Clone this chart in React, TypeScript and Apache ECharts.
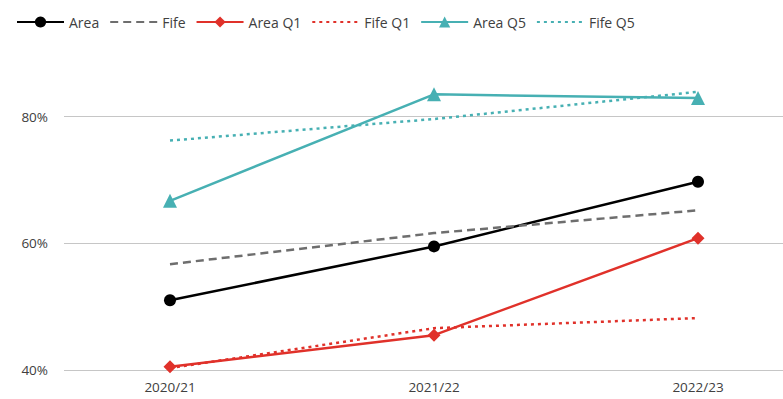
import React, { useEffect, useRef } from "react";
import * as echarts from "echarts";

const years = ["2020/21", "2021/22", "2022/23"];
const area = [51.0, 59.5, 69.7];
const fife = [56.7, 61.6, 65.2];
const areaQ1 = [40.5, 45.5, 60.8];
const fifeQ1 = [40.3, 46.6, 48.2];
const areaQ5 = [66.7, 83.5, 82.9];
const fifeQ5 = [76.2, 79.6, 83.9];

const BLACK = "#000000";
const GREY = "#6e6e6e";
const RED = "#e0312a";
const TEAL = "#47b0b3";
const FONT = "'Open Sans', 'Noto Sans', sans-serif";

export default function App() {
  const ref = useRef<HTMLDivElement>(null);

  useEffect(() => {
    if (!ref.current) return;
    const chart = echarts.init(ref.current, null, { renderer: "svg" });

    const lineSeries = (
      name: string,
      data: number[],
      color: string,
      lineType: any,
      symbol: string,
      symbolSize: number
    ) => ({
      name,
      type: "line",
      xAxisIndex: 1,
      yAxisIndex: 1,
      data,
      clip: false,
      symbol,
      symbolSize,
      itemStyle: { color },
      lineStyle: { color, width: 2.5, type: lineType },
    });

    // lines without markers get a bare line in the legend
    const plain = { itemStyle: { opacity: 0 } };

    chart.setOption({
      animation: false,
      backgroundColor: "#ffffff",
      textStyle: { fontFamily: FONT },
      legend: {
        left: 16,
        top: 15,
        padding: 0,
        itemWidth: 47,
        itemHeight: 14,
        itemGap: 10,
        textStyle: { fontFamily: FONT, fontSize: 14, color: "#404040" },
        data: [
          { name: "Area" },
          { name: "Fife", ...plain },
          { name: "Area Q1" },
          { name: "Fife Q1", ...plain },
          { name: "Area Q5" },
          { name: "Fife Q5", ...plain },
        ],
      },
      grid: [
        { left: 64, right: 0, top: 116.5, bottom: 29 },
        { left: 170, right: 85, top: 116.5, bottom: 29 },
      ],
      xAxis: [
        {
          gridIndex: 0,
          type: "category",
          data: years,
          show: false,
        },
        {
          gridIndex: 1,
          type: "category",
          data: years,
          boundaryGap: false,
          axisLine: { show: false },
          axisTick: { show: false },
          axisLabel: { margin: 10, fontFamily: FONT, fontSize: 13.5, color: "#404040" },
          splitLine: { show: false },
        },
      ],
      yAxis: [
        {
          gridIndex: 0,
          type: "value",
          min: 40,
          max: 80,
          interval: 20,
          axisLine: { show: false },
          axisTick: { show: false },
          axisLabel: {
            margin: 16,
            formatter: "{value}%",
            fontFamily: FONT,
            fontSize: 13.5,
            color: "#404040",
          },
          splitLine: { show: true, lineStyle: { color: "#c6c6c6", width: 1.2 } },
        },
        {
          gridIndex: 1,
          type: "value",
          min: 40,
          max: 80,
          interval: 20,
          show: false,
          splitLine: { show: false },
        },
      ],
      series: [
        lineSeries("Area", area, BLACK, "solid", "circle", 12),
        lineSeries("Fife", fife, GREY, [8, 5], "none", 0),
        lineSeries("Area Q1", areaQ1, RED, "solid", "diamond", 13),
        lineSeries("Fife Q1", fifeQ1, RED, [3, 4], "none", 0),
        lineSeries("Area Q5", areaQ5, TEAL, "solid", "triangle", 14),
        lineSeries("Fife Q5", fifeQ5, TEAL, [3, 4], "none", 0),
      ],
    });

    return () => chart.dispose();
  }, []);

  return <div ref={ref} style={{ width: 783, height: 399, position: "absolute", left: 0, top: 0 }} />;
}
